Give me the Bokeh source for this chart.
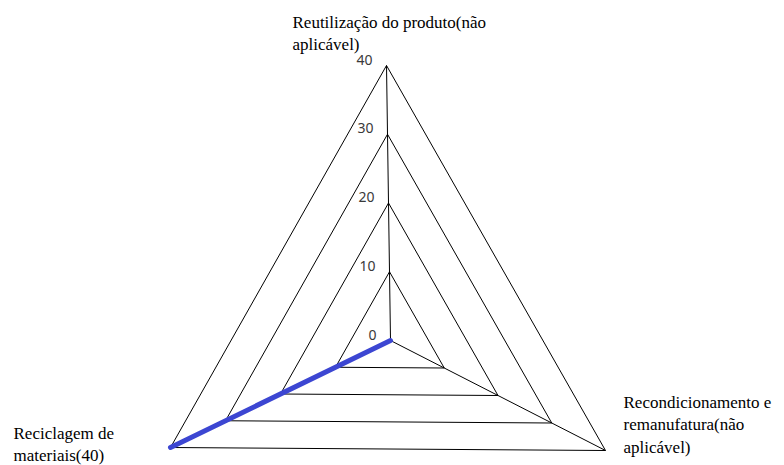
from bokeh.plotting import figure
from bokeh.models import Range1d, ColumnDataSource
from bokeh.core.properties import value
from bokeh.embed import file_html
from bokeh.resources import INLINE

# Radar data: one value per dimension (top, lower right, lower left)
categories = [
    "Reutilização do produto(não\naplicável)",
    "Recondicionamento e\nremanufatura(não\naplicável)",
    "Reciclagem de\nmateriais(40)",
]
values = [0, 0, 40]
ticks = [0, 10, 20, 30, 40]
scale_max = 40

W, H = 784, 465
p = figure(width=W, height=H, output_backend="svg", toolbar_location=None,
           x_range=Range1d(0, W), y_range=Range1d(H, 0),
           min_border=0, outline_line_color=None, background_fill_color="white")
p.axis.visible = False
p.grid.visible = False

# Chart geometry in screen-like units: centre and full-scale spoke vectors
cx, cy = 390, 340
spokes = [(-4, -275), (215, 110), (-220, 107)]


def point(i, v):
    dx, dy = spokes[i]
    f = v / scale_max
    return cx + dx * f, cy + dy * f


# Rings
for t in ticks[1:]:
    pts = [point(i, t) for i in range(3)]
    xs = [q[0] for q in pts] + [pts[0][0]]
    ys = [q[1] for q in pts] + [pts[0][1]]
    p.line(xs, ys, line_color="black", line_width=1)

# Spokes
for i in range(3):
    x1, y1 = point(i, scale_max)
    p.line([cx, x1], [cy, y1], line_color="black", line_width=1)

# Data series
dpts = [point(i, v) for i, v in enumerate(values)]
p.line([q[0] for q in dpts] + [dpts[0][0]], [q[1] for q in dpts] + [dpts[0][1]],
       line_color="#3c46d2", line_width=5, line_cap="round", line_join="round")

# Tick labels along the top spoke
tx, ty = [], []
for t in ticks:
    x, y = point(0, t)
    tx.append(x - 14)
    ty.append(y - 6)
p.text(x=tx, y=ty, text=[str(t) for t in ticks], text_align="right",
       text_baseline="middle", text_font=value("Noto Sans"), text_font_size="14px",
       text_color="#3a3a3a")

# Category labels
offsets = [(-94, -53), (18, -58), (-157, -24)]
lx, ly = [], []
for i in range(3):
    x, y = point(i, scale_max)
    lx.append(x + offsets[i][0])
    ly.append(y + offsets[i][1])
src = ColumnDataSource(dict(x=lx, y=ly, text=categories))
p.text(x="x", y="y", text="text", source=src, text_align="left", text_baseline="top",
       text_font=value("Liberation Serif"), text_font_size="17px",
       text_line_height=1.2, text_color="black")

open("out.html", "w").write(file_html(p, INLINE))
